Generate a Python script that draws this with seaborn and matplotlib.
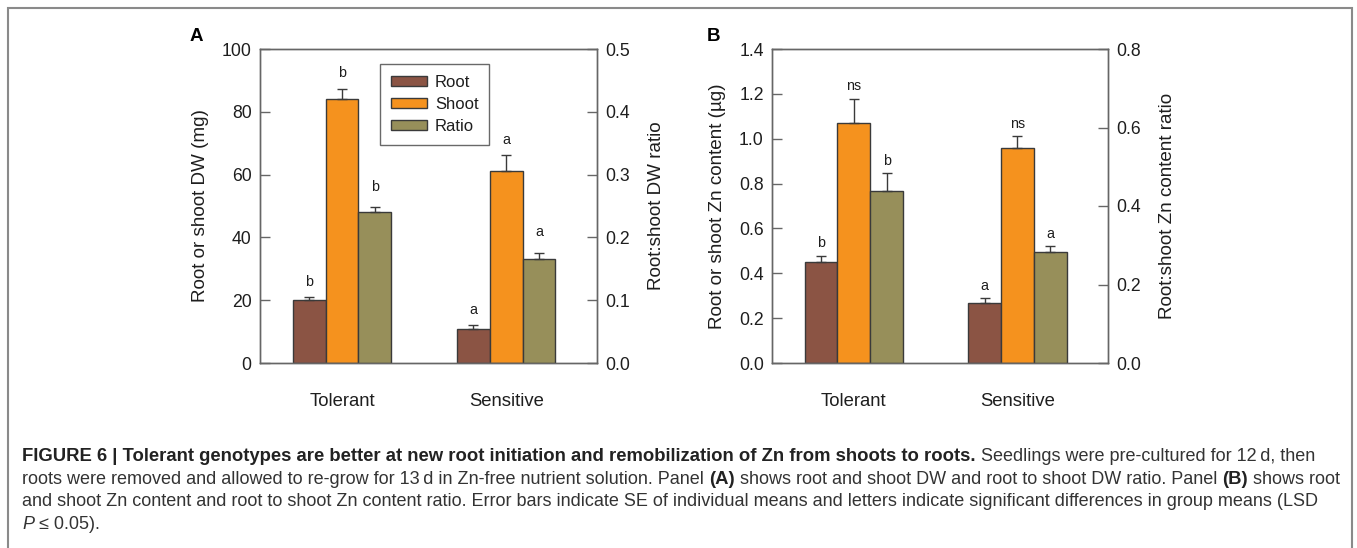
import matplotlib
matplotlib.use("Agg")
import matplotlib.pyplot as plt
import seaborn as sns
import pandas as pd
from matplotlib.patches import Patch, Rectangle

# ---------------- data ----------------
genotypes = ["Tolerant", "Sensitive"]
parts = ["Root", "Shoot", "Ratio"]

# Panel A: dry weight
dw_root = [20.2, 10.9]
dw_root_se = [0.7, 1.1]
dw_shoot = [84.1, 61.3]
dw_shoot_se = [3.3, 5.0]
dw_ratio = [0.240, 0.165]
dw_ratio_se = [0.008, 0.010]
dw_letters_root = ["b", "a"]
dw_letters_shoot = ["b", "a"]
dw_letters_ratio = ["b", "a"]

# Panel B: Zn content
zn_root = [0.450, 0.269]
zn_root_se = [0.028, 0.021]
zn_shoot = [1.069, 0.960]
zn_shoot_se = [0.110, 0.050]
zn_ratio = [0.439, 0.283]
zn_ratio_se = [0.045, 0.015]
zn_letters_root = ["b", "a"]
zn_letters_shoot = ["ns", "ns"]
zn_letters_ratio = ["b", "a"]

dw_yticks = [0, 20, 40, 60, 80, 100]
dw_rticks = [0.0, 0.1, 0.2, 0.3, 0.4, 0.5]
zn_yticks = [0.0, 0.2, 0.4, 0.6, 0.8, 1.0, 1.2, 1.4]
zn_rticks = [0.0, 0.2, 0.4, 0.6, 0.8]

# ---------------- style ----------------
sns.set_theme(style="white")
FAM = ["Liberation Sans", "DejaVu Sans"]
plt.rcParams["font.family"] = FAM

palette = {"Root": "#8B5444", "Shoot": "#F5921E", "Ratio": "#978F5A"}
EDGE = "#3a3a3a"
SPINE = "#666666"
TXT = "#1e1e1e"

W, H = 1357, 548
fig = plt.figure(figsize=(W / 100, H / 100), dpi=100)
fig.patch.set_facecolor("white")


def px_axes(left, top, right, bottom):
    return fig.add_axes([left / W, 1 - bottom / H, (right - left) / W, (bottom - top) / H])


def style_axis(ax, side):
    for s in ax.spines.values():
        s.set_color(SPINE)
        s.set_linewidth(1.0)
        s.set_visible(True)
    ax.tick_params(axis="y", which="both", direction="in", length=7, width=1,
                   color=SPINE, pad=6, labelsize=12.7, labelcolor=TXT,
                   left=(side == "left"), right=(side == "right"),
                   labelleft=(side == "left"), labelright=(side == "right"))


def panel(ax, root, root_se, shoot, shoot_se, ratio, ratio_se,
          l_root, l_shoot, l_ratio, yticks, rticks, ylabel, rlabel,
          yfmt, rfmt, off_main, off_ratio, lp_left, lp_right):
    # main axis: Root and Shoot (Ratio slot kept empty with zero height)
    main = pd.DataFrame({
        "Genotype": genotypes * 3,
        "Part": ["Root"] * 2 + ["Shoot"] * 2 + ["Ratio"] * 2,
        "Value": root + shoot + [0.0, 0.0],
    })
    sns.barplot(data=main, x="Genotype", y="Value", hue="Part",
                order=genotypes, hue_order=parts, palette=palette,
                width=0.6, errorbar=None, edgecolor=EDGE, linewidth=1.0,
                ax=ax, legend=False, saturation=1)
    ax2 = ax.twinx()
    # secondary axis: Ratio (Root/Shoot slots empty)
    rat = pd.DataFrame({
        "Genotype": genotypes * 3,
        "Part": ["Root"] * 2 + ["Shoot"] * 2 + ["Ratio"] * 2,
        "Value": [0.0, 0.0, 0.0, 0.0] + ratio,
    })
    sns.barplot(data=rat, x="Genotype", y="Value", hue="Part",
                order=genotypes, hue_order=parts, palette=palette,
                width=0.6, errorbar=None, edgecolor=EDGE, linewidth=1.0,
                ax=ax2, legend=False, saturation=1)
    for a in (ax, ax2):
        for p in a.patches:
            if p.get_height() == 0:
                p.set_visible(False)

    # error bars + letters (main axis)
    pm = sorted([p for p in ax.patches if p.get_height() > 0], key=lambda p: p.get_x())
    vals = [(root[0], root_se[0], l_root[0]), (shoot[0], shoot_se[0], l_shoot[0]),
            (root[1], root_se[1], l_root[1]), (shoot[1], shoot_se[1], l_shoot[1])]
    for p, (v, se, lt) in zip(pm, vals):
        xc = p.get_x() + p.get_width() / 2
        ax.errorbar([xc], [v], yerr=[[0], [se]], fmt="none", ecolor=EDGE,
                    elinewidth=1.0, capsize=3.5, capthick=1.0, zorder=5)
        ax.annotate(lt, xy=(xc, v + se), xytext=(0, off_main), textcoords="offset points",
                    ha="center", va="baseline", fontsize=10.3, color=TXT)
    pr = sorted([p for p in ax2.patches if p.get_height() > 0], key=lambda p: p.get_x())
    for p, v, se, lt in zip(pr, ratio, ratio_se, l_ratio):
        xc = p.get_x() + p.get_width() / 2
        ax2.errorbar([xc], [v], yerr=[[0], [se]], fmt="none", ecolor=EDGE,
                     elinewidth=1.0, capsize=3.5, capthick=1.0, zorder=5)
        ax2.annotate(lt, xy=(xc, v + se), xytext=(0, off_ratio), textcoords="offset points",
                     ha="center", va="baseline", fontsize=10.3, color=TXT)

    ax.set_ylim(yticks[0], yticks[-1])
    ax2.set_ylim(rticks[0], rticks[-1])
    ax.set_yticks(yticks)
    ax.set_yticklabels([yfmt.format(t) for t in yticks])
    ax2.set_yticks(rticks)
    ax2.set_yticklabels([rfmt.format(t) for t in rticks])
    for a in (ax, ax2):
        a.set_xlim(-0.5, 1.553)
    style_axis(ax, "left")
    style_axis(ax2, "right")
    ax.tick_params(axis="x", length=0, pad=21.5, labelsize=13.3, labelcolor=TXT)
    ax2.tick_params(axis="x", length=0)
    ax.set_xlabel("")
    ax2.set_xlabel("")
    ax.set_ylabel(ylabel, fontsize=13.6, color=TXT, labelpad=lp_left)
    ax2.set_ylabel(rlabel, fontsize=13.6, color=TXT, labelpad=lp_right)
    return ax2


axA = px_axes(260, 49, 597, 363)
axA2 = panel(axA, dw_root, dw_root_se, dw_shoot, dw_shoot_se, dw_ratio, dw_ratio_se,
             dw_letters_root, dw_letters_shoot, dw_letters_ratio,
             dw_yticks, dw_rticks, "Root or shoot DW (mg)", "Root:shoot DW ratio",
             "{:.0f}", "{:.1f}", 8, 12, 9.5, 12.5)

axB = px_axes(772, 49, 1108, 363)
axB2 = panel(axB, zn_root, zn_root_se, zn_shoot, zn_shoot_se, zn_ratio, zn_ratio_se,
             zn_letters_root, zn_letters_shoot, zn_letters_ratio,
             zn_yticks, zn_rticks, "Root or shoot Zn content (\u00b5g)", "Root:shoot Zn content ratio",
             "{:.1f}", "{:.1f}", 6, 6, 9.5, 12.5)

handles = [Patch(facecolor=palette[p], edgecolor=EDGE, linewidth=1.0, label=p) for p in parts]
leg = axA2.legend(handles=handles, loc="upper left", bbox_to_anchor=(0.356, 0.952),
                  borderaxespad=0, frameon=True, fancybox=False, fontsize=12,
                  handlelength=2.15, handleheight=0.5, handletextpad=0.5,
                  labelspacing=0.42, borderpad=0.65)
leg.get_frame().set_edgecolor("#444444")
leg.get_frame().set_linewidth(1.0)
for t in leg.get_texts():
    t.set_color(TXT)

# panel letters
fig.text(190 / W, 1 - 41 / H, "A", fontsize=13.5, fontweight="bold", ha="left", va="baseline", color="black")
fig.text(707 / W, 1 - 41 / H, "B", fontsize=13.5, fontweight="bold", ha="left", va="baseline", color="black")

# outer frame
fig.add_artist(Rectangle((8 / W, -0.05), (1352 - 8) / W, 1 - 8 / H + 0.05, transform=fig.transFigure,
                         fill=False, edgecolor="#8a8a8a", linewidth=1.5))

# caption
cax = fig.add_axes([0, 0, 1, 1], zorder=-1)
cax.axis("off")
cax.set_xlim(0, W)
cax.set_ylim(H, 0)
FS_REG = 12.95
FS_BOLD = 13.35
CAP_COL = "#333333"
BOLD_COL = "#222222"
SP = 0.278 * FS_REG


def caption_line(y, pieces):
    prev = None
    for txt, weight, style in pieces:
        kw = dict(fontsize=FS_BOLD if weight == "bold" else FS_REG, fontweight=weight,
                  fontstyle=style, color=BOLD_COL if weight == "bold" else CAP_COL,
                  family=FAM, ha="left", va="baseline")
        if prev is None:
            prev = cax.text(22, y, txt, **kw)
        else:
            prev = cax.annotate(txt, xy=(1, 0), xycoords=prev, xytext=(SP, 0),
                                textcoords="offset points", **dict(kw, va="bottom"))


caption_line(461, [
    ("FIGURE 6 | Tolerant genotypes are better at new root initiation and remobilization of Zn from shoots to roots.", "bold", "normal"),
    ("Seedlings were pre-cultured for 12\u2009d, then", "normal", "normal"),
])
caption_line(484, [
    ("roots were removed and allowed to re-grow for 13\u2009d in Zn-free nutrient solution. Panel", "normal", "normal"),
    ("(A)", "bold", "normal"),
    ("shows root and shoot DW and root to shoot DW ratio. Panel", "normal", "normal"),
    ("(B)", "bold", "normal"),
    ("shows root", "normal", "normal"),
])
caption_line(506.5, [
    ("and shoot Zn content and root to shoot Zn content ratio. Error bars indicate SE of individual means and letters indicate significant differences in group means (LSD", "normal", "normal"),
])
caption_line(529, [
    ("P", "normal", "italic"),
    ("\u2264 0.05).", "normal", "normal"),
])

fig.savefig("out.png", dpi=100, facecolor="white")
